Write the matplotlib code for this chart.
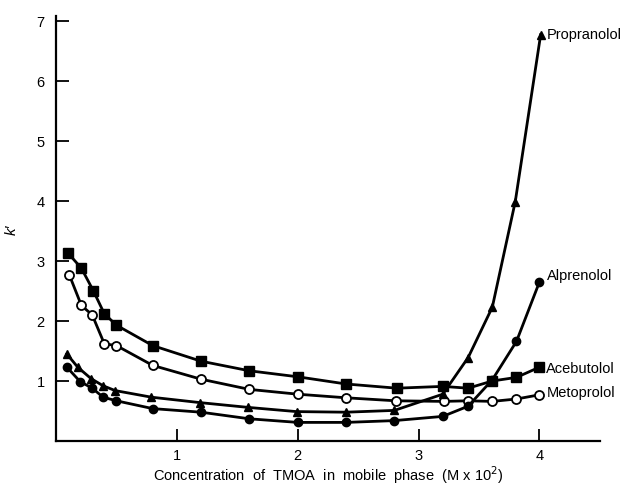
import matplotlib
matplotlib.use("Agg")
import matplotlib.pyplot as plt

# concentration TMOA (M x 10^2) et k'
x_acebutolol = [0.10, 0.21, 0.31, 0.40, 0.50, 0.80, 1.20, 1.60, 2.00, 2.40, 2.82, 3.20, 3.41, 3.61, 3.81, 4.00]
k_acebutolol = [3.13, 2.88, 2.50, 2.12, 1.93, 1.59, 1.33, 1.17, 1.07, 0.95, 0.88, 0.91, 0.88, 1.00, 1.06, 1.23]

x_metoprolol = [0.11, 0.21, 0.30, 0.40, 0.50, 0.80, 1.20, 1.60, 2.00, 2.40, 2.81, 3.21, 3.41, 3.61, 3.81, 4.00]
k_metoprolol = [2.77, 2.26, 2.10, 1.62, 1.59, 1.26, 1.03, 0.86, 0.78, 0.72, 0.67, 0.66, 0.67, 0.66, 0.70, 0.77]

x_propranolol = [0.09, 0.18, 0.29, 0.39, 0.49, 0.79, 1.19, 1.59, 1.99, 2.40, 2.80, 3.20, 3.41, 3.61, 3.80, 4.01]
k_propranolol = [1.45, 1.23, 1.04, 0.92, 0.84, 0.73, 0.64, 0.56, 0.49, 0.48, 0.51, 0.78, 1.39, 2.23, 3.99, 6.77]

x_alprenolol = [0.09, 0.20, 0.30, 0.39, 0.50, 0.80, 1.20, 1.60, 2.00, 2.40, 2.80, 3.20, 3.41, 3.61, 3.81, 4.00]
k_alprenolol = [1.23, 0.99, 0.88, 0.73, 0.67, 0.54, 0.48, 0.37, 0.31, 0.31, 0.34, 0.41, 0.58, 1.02, 1.66, 2.65]

plt.rcParams['font.family'] = ['Liberation Sans', 'DejaVu Sans']

fig = plt.figure(figsize=(6.31, 4.89), dpi=100)
ax = fig.add_axes([0.0887, 0.0961, 0.862, 0.869])

lw = 2.0
ax.plot(x_acebutolol, k_acebutolol, color="black", lw=lw, marker="s", ms=6.5, mfc="black", mec="black")
ax.plot(x_metoprolol, k_metoprolol, color="black", lw=lw, marker="o", ms=6.5, mfc="white", mec="black", mew=1.3)
ax.plot(x_propranolol, k_propranolol, color="black", lw=lw, marker="^", ms=6, mfc="black", mec="black")
ax.plot(x_alprenolol, k_alprenolol, color="black", lw=lw, marker="o", ms=6, mfc="black", mec="black")

# étiquettes au bout des courbes
ax.text(x_propranolol[-1] + 0.05, k_propranolol[-1] + 0.01, "Propranolol", fontsize=10.5, va="center", ha="left")
ax.text(x_alprenolol[-1] + 0.06, k_alprenolol[-1] + 0.12, "Alprenolol", fontsize=10.5, va="center", ha="left")
ax.text(x_acebutolol[-1] + 0.05, k_acebutolol[-1] - 0.01, "Acebutolol", fontsize=10.5, va="center", ha="left")
ax.text(x_metoprolol[-1] + 0.06, k_metoprolol[-1] + 0.05, "Metoprolol", fontsize=10.5, va="center", ha="left")

ax.set_xlim(0, 4.5)
ax.set_ylim(0, 7.08)
ax.set_xticks([1, 2, 3, 4])
ax.set_xticklabels(["1", "2", "3", "4"])
ax.set_yticks([1, 2, 3, 4, 5, 6, 7])
ax.set_yticklabels(["1", "2", "3", "4", "5", "6", "7"])
ax.tick_params(direction="in", length=9, width=1.3, labelsize=10.5, pad=8)
ax.tick_params(axis="x", pad=5)

for s in ["top", "right"]:
    ax.spines[s].set_visible(False)
for s in ["left", "bottom"]:
    ax.spines[s].set_linewidth(1.6)

ax.set_xlabel("Concentration  of  TMOA  in  mobile  phase  (M x 10$^2$)", fontsize=10.5, labelpad=1)
ax.set_ylabel("k\u2032", fontsize=11, style="italic", labelpad=13, rotation=90)

fig.savefig("out.png", dpi=100)
